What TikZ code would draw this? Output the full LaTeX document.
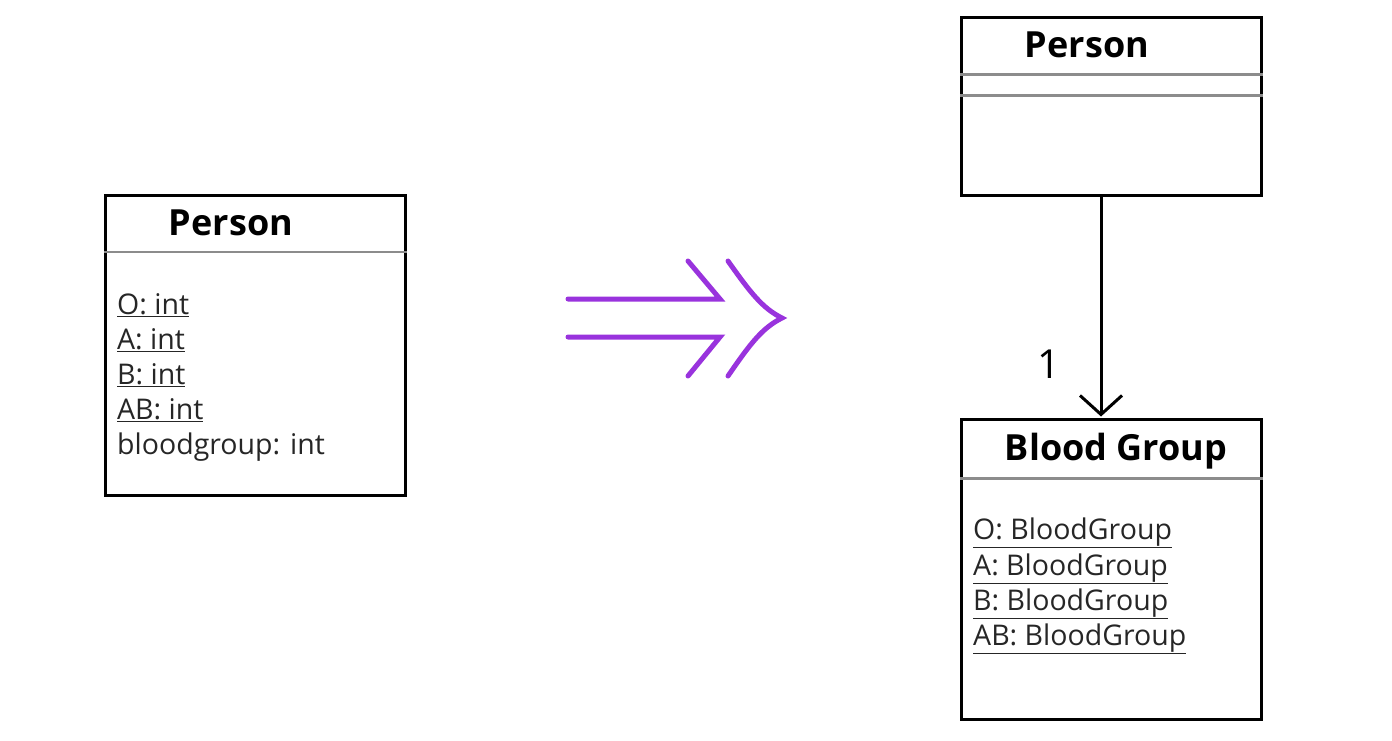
\documentclass[tikz,border=0pt]{standalone}
\usepackage{fontspec}
\setmainfont{Open Sans}
\usetikzlibrary{positioning,arrows.meta}

\definecolor{refinecol}{RGB}{153,51,221}
\tikzstyle{classbox}=[shape=rectangle,draw=black,line width=3pt,minimum width=300pt,inner sep=0pt]
\tikzstyle{classname}=[font=\fontsize{36}{40}\selectfont\bfseries,anchor=base,inner sep=0pt]
\tikzstyle{attr}=[font=\fontsize{28.5}{33}\selectfont,anchor=base west,inner sep=0pt,text=black!85]
\tikzstyle{divider}=[draw=black!45,line width=2.5pt]
\tikzstyle{refine}=[draw=refinecol,line width=5pt,line cap=round]

\newcommand{\ul}[1]{\underline{#1}}

\begin{document}
\begin{tikzpicture}[x=1pt,y=-1pt]
        \useasboundingbox (0,0) rectangle (1392,740);
        % old class
        \node[classbox,minimum height=300pt] (p0) at (255.5,345) {};
        \node[classname] (p0name) at (231,235) {Person};
        \draw[divider] ([yshift=-58.5pt]p0.north west) -- ([yshift=-58.5pt]p0.north east);
        \node[attr] (p0o) at (117,314) {\ul{O: int}};
        \node[attr] (p0a) at (117,349) {\ul{A: int}};
        \node[attr] (p0b) at (117,384) {\ul{B: int}};
        \node[attr] (p0ab) at (117,419) {\ul{AB: int}};
        \node[attr] (p0bg) at (117,454) {bloodgroup: int};
        % refinement arrow
        \draw[refine] (568,299) -- (720,299) -- (688,261);
        \draw[refine] (568,337) -- (720,337) -- (688,376);
        \draw[refine] (728,261) .. controls (750,292) and (762,308) .. (782,318)
            .. controls (762,328) and (750,344) .. (728,376);
        % new classes
        \node[classbox,minimum height=178pt] (p1) at (1111.5,106.5) {};
        \node[classname] (p1name) at (1087,57) {Person};
        \draw[divider] ([yshift=-58.5pt]p1.north west) -- ([yshift=-58.5pt]p1.north east);
        \draw[divider] ([yshift=-79.5pt]p1.north west) -- ([yshift=-79.5pt]p1.north east);
        \node[classbox,minimum height=300pt] (bg) at (1111.5,569.5) {};
        \node[classname] (bgname) at (1116,460) {Blood Group};
        \draw[divider] ([yshift=-60.5pt]bg.north west) -- ([yshift=-60.5pt]bg.north east);
        \node[attr] (bgo) at (973,539) {\ul{O: BloodGroup}};
        \node[attr] (bga) at (973,575) {\ul{A: BloodGroup}};
        \node[attr] (bgb) at (973,610) {\ul{B: BloodGroup}};
        \node[attr] (bgab) at (973,645) {\ul{AB: BloodGroup}};
        % association
        \draw[line width=3pt,-{Straight Barb[length=19pt,width=42pt,line width=3pt]}]
            ([xshift=-10.5pt]p1.south) -- ([xshift=-10.5pt,yshift=1.5pt]bg.north)
            node[pos=0.76,left=36pt,font=\fontsize{40}{44}\selectfont] (mult) {1};
    \end{tikzpicture}
\end{document}
